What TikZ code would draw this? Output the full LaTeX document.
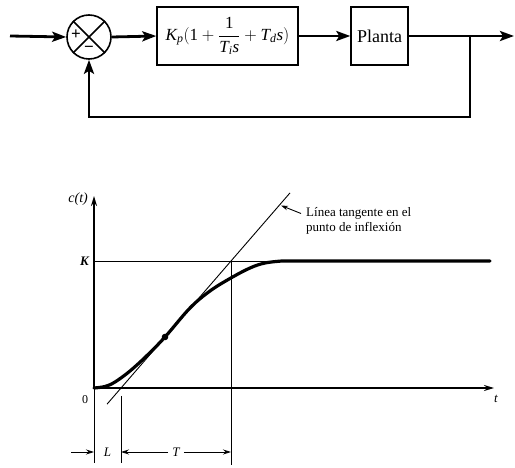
\documentclass[tikz,border=0pt]{standalone}
\usepackage{amsmath}
\usepackage{fontspec}
\setmainfont{Liberation Serif}
\usetikzlibrary{arrows.meta,calc}
\newcommand{\iv}[1]{\text{\itshape #1}}
\begin{document}
\begin{tikzpicture}[x=1pt,y=-1pt,
  thickline/.style={line width=2.8pt},
  blockarrow/.style={thickline,-{Stealth[length=14pt,width=10pt,inset=3pt]}},
  blockbox/.style={draw,line width=1.4pt,minimum height=58pt,inner sep=0pt},
  axisline/.style={line width=1.6pt},
  thinline/.style={line width=0.9pt},
  dimarrow/.style={line width=0.8pt,-{Stealth[length=8pt,width=5pt]}},
  lbl/.style={inner sep=0pt,font=\fontsize{11}{13}\selectfont}]
\useasboundingbox (0,0) rectangle (515,468);
% ---- block diagram ----
\coordinate (in) at (10,36);
\node[circle,draw,line width=1.6pt,minimum size=44pt,inner sep=0pt] (sum) at (89,37) {};
\draw[line width=1.6pt] (sum.north west) -- (sum.south east) (sum.north east) -- (sum.south west);
\node[font=\bfseries\fontsize{17}{17}\selectfont,inner sep=0pt] (plus) at (76,35) {+};
\node[font=\bfseries\fontsize{17}{17}\selectfont,inner sep=0pt] (minus) at (89,49.5) {\textminus};
\node[blockbox,minimum width=141pt,font=\fontsize{17}{17}\selectfont] (ctrl) at (227.5,36)
  {$\iv{K}_{\iv{p}}(\text{1} + \dfrac{\text{1}}{\iv{T}_{\iv{i}}\iv{s}} + \iv{T}_{\iv{d}}\iv{s})$};
\node[blockbox,minimum width=57pt,font=\fontsize{18}{18}\selectfont] (plant) at (379.5,36) {Planta};
\coordinate (br) at (470,36);
\coordinate (out) at (514,36);
\coordinate (fb1) at (470,117);
\coordinate (fb2) at (89,117);
\draw[blockarrow] (in) -- (sum.west);
\draw[blockarrow] (sum.east) -- (ctrl.west);
\draw[blockarrow] (ctrl.east) -- (plant.west);
\draw[blockarrow] (plant.east) -- (out);
\draw[blockarrow] (br) -- (fb1) -- (fb2) -- (sum.south);
% ---- step response ----
\coordinate (O) at (94,388);
\coordinate (ytop) at (94,196);
\coordinate (xend) at (494,388);
\coordinate (ybot) at (94,463);
\coordinate (Kl) at (94,261);
\coordinate (Kr) at (490,261);
\coordinate (Lp) at (121,388);
\coordinate (Tp) at (231,261);
\coordinate (Lb) at (121,463);
\coordinate (Tb) at (231,465);
\coordinate (tanA) at (107,404.2);
\coordinate (tanB) at (290,192.9);
\coordinate (infl) at (165,337);
\draw[axisline,-{Stealth[length=10pt,width=6pt]}] (O) -- (ytop);
\draw[axisline,-{Stealth[length=10pt,width=6pt]}] (O) -- (xend);
\draw[thinline] (O) -- (ybot);
\draw[thinline] (Kl) -- (Kr);
\draw[thinline] (tanA) -- (tanB);
\draw[thinline] (Tp) -- (Tb);
\draw[thinline] (121,396) -- (Lb);
\draw[line width=3.2pt,line cap=round] plot[smooth,tension=0.6] coordinates
  {(94,388) (105,386.5) (115,382) (130,371) (147,355.5) (165,337) (190,308) (210,291) (230,278.5) (250,268) (265,263) (282,261)} -- (Kr);
\fill (infl) circle (3.3pt);
\node[lbl,anchor=east,font=\itshape\fontsize{14}{14}\selectfont] (ct) at (88,199) {c(t)};
\node[lbl,anchor=east,font=\itshape\bfseries\fontsize{13}{13}\selectfont] (Klab) at (89,261) {K};
\node[lbl,font=\fontsize{12}{12}\selectfont] (zero) at (85,400) {0};
\node[lbl,font=\itshape\fontsize{13}{13}\selectfont] (tlab) at (496,399) {t};
\node[lbl,align=left,anchor=north west,font=\fontsize{13}{15}\selectfont] (note) at (306,207) {Línea tangente en el\\ punto de inflexión};
\coordinate (noteA) at (301,213.5);
\coordinate (noteB) at (281,205.5);
\draw[line width=0.9pt,-{Stealth[length=7pt,width=4.5pt]}] (noteA) -- (noteB);
% dimensions
\node[lbl,font=\itshape\fontsize{13}{13}\selectfont] (Llab) at (107.5,452) {L};
\node[lbl,font=\itshape\fontsize{13}{13}\selectfont] (Tlab) at (176,452) {T};
\coordinate (La) at (71,452);
\coordinate (Lh) at (94,452);
\draw[dimarrow] (La) -- (Lh);
\draw[dimarrow] (Tlab.west) ++(-4,0) -- (121,452);
\draw[dimarrow] (Tlab.east) ++(4,0) -- (231,452);
\end{tikzpicture}
\end{document}
